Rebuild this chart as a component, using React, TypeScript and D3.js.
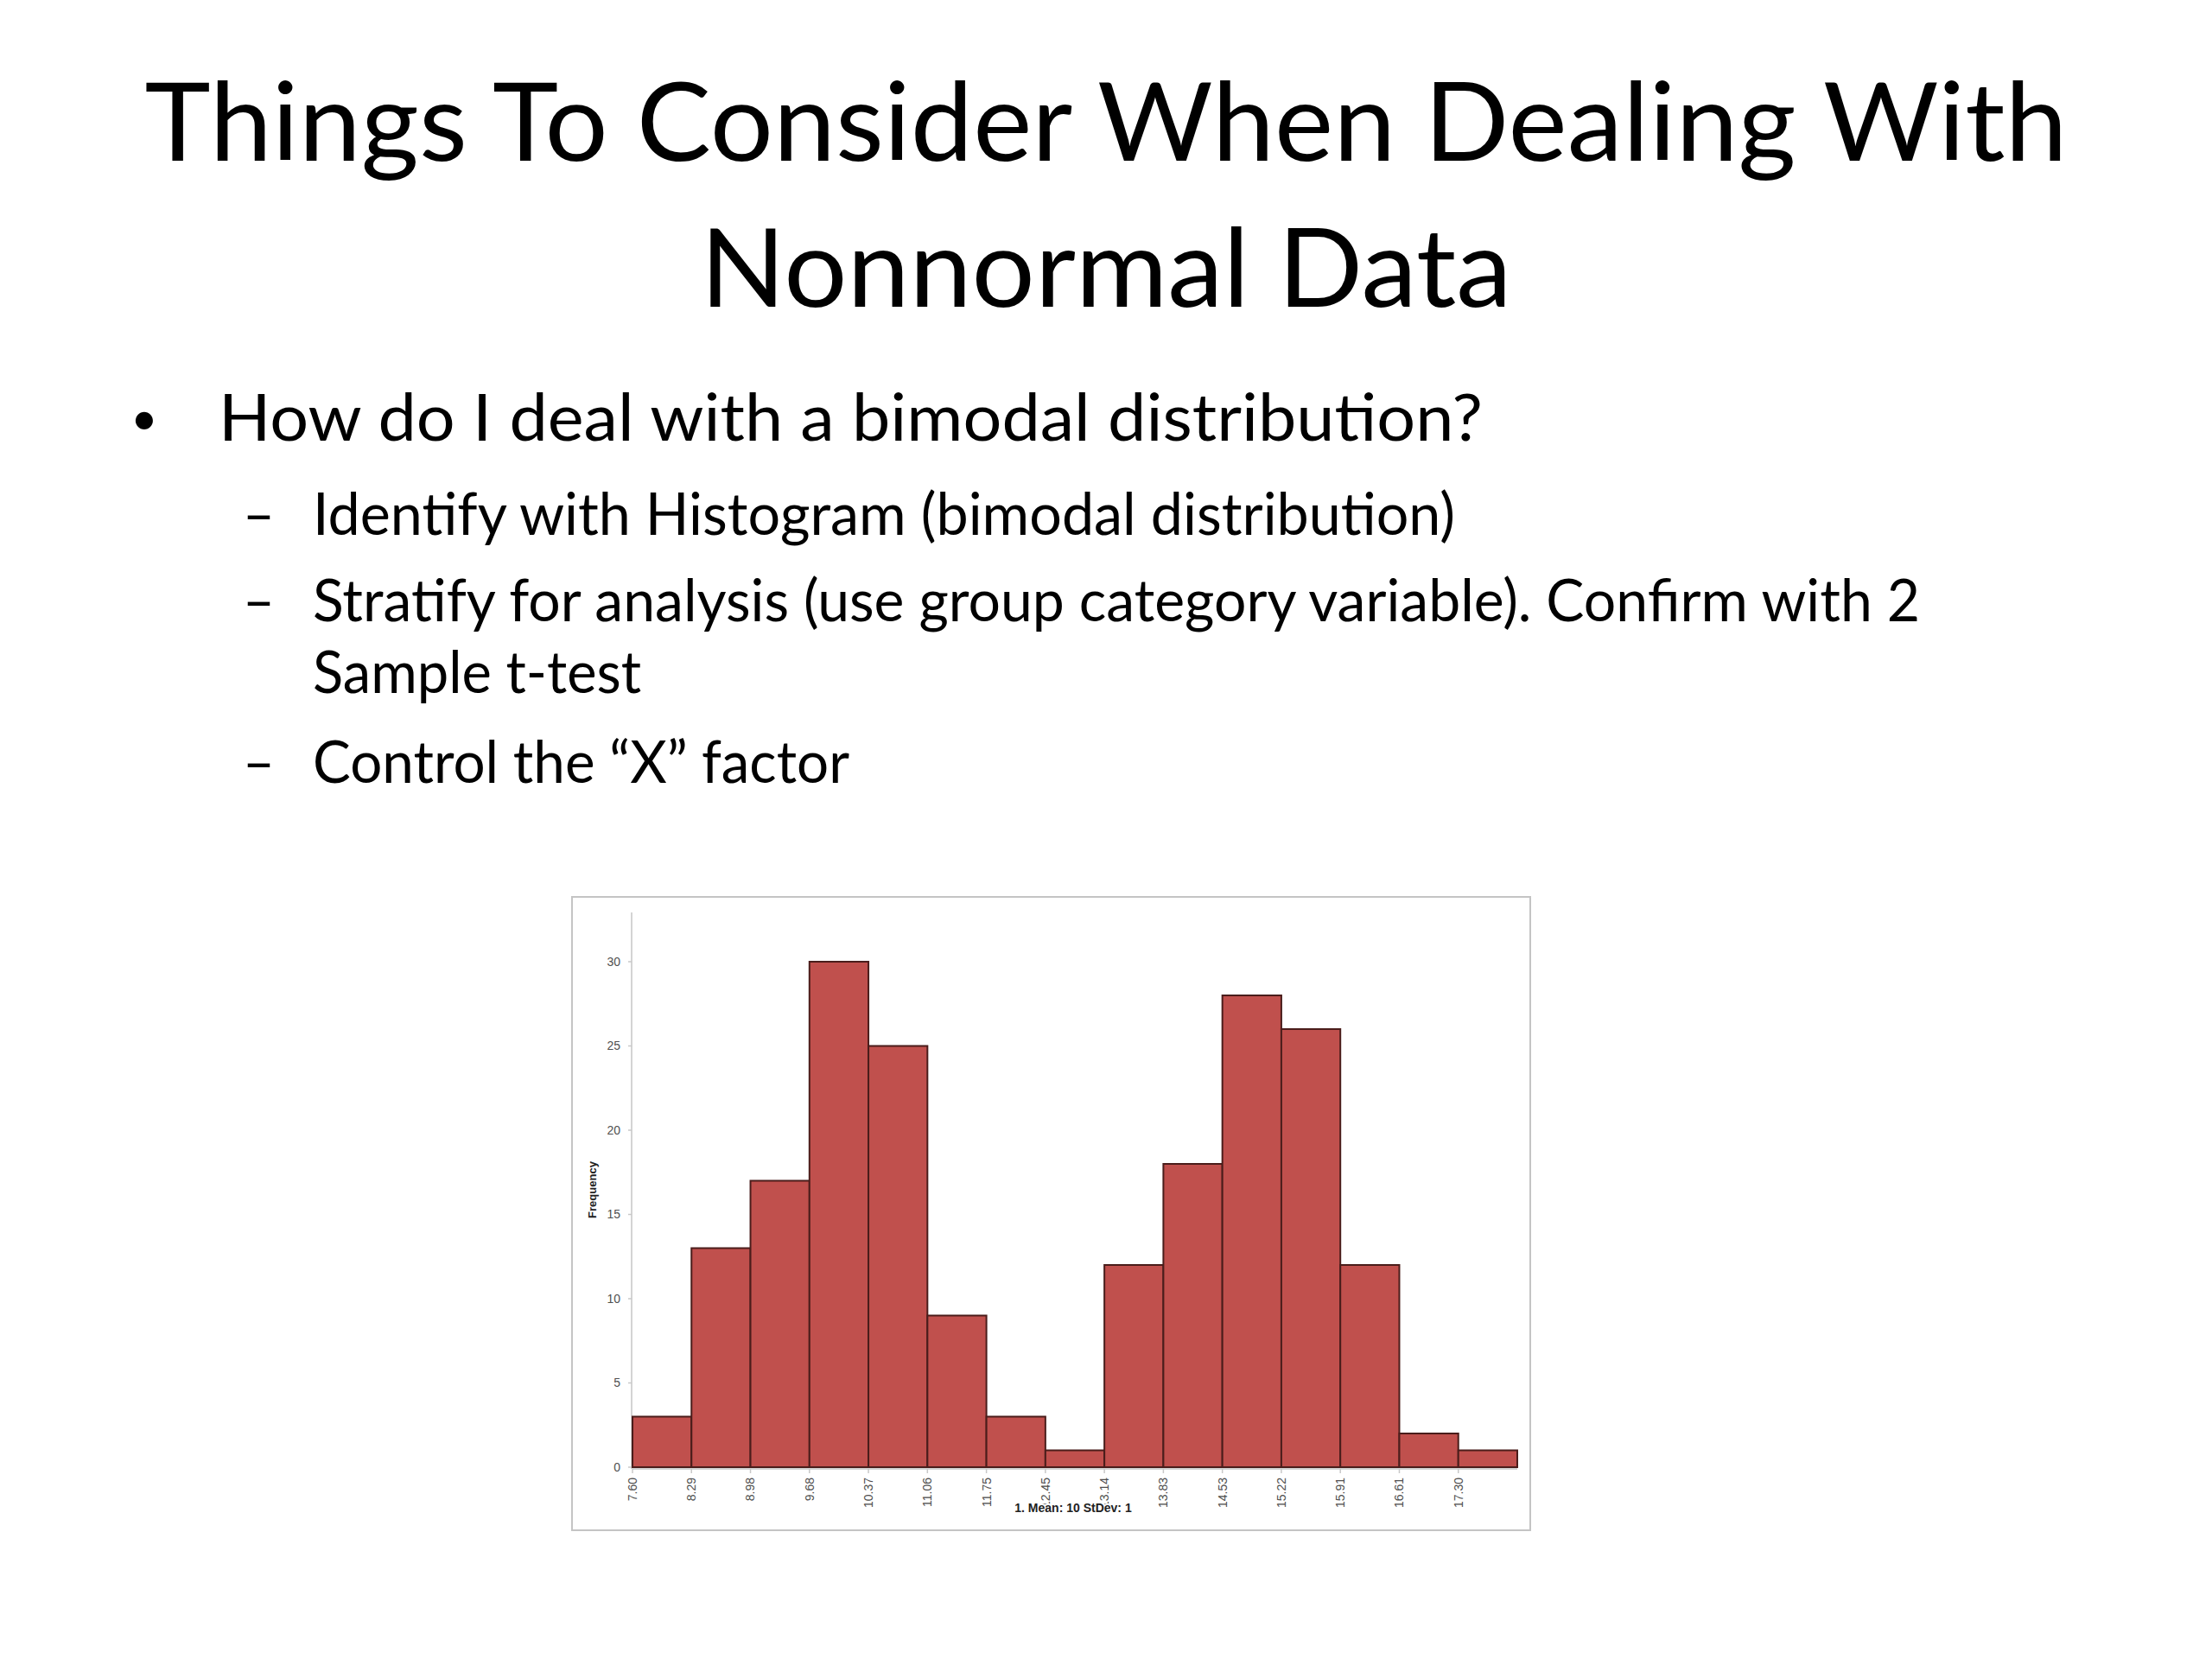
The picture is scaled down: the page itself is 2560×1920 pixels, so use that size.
import {scaleBand, scaleLinear} from "d3";

const TITLE_LINES = ["Things To Consider When Dealing With", "Nonnormal Data"];
const MAIN_BULLET = "How do I deal with a bimodal distribution?";
const SUB_BULLETS = [
  ["Identify with Histogram (bimodal distribution)"],
  ["Stratify for analysis (use group category variable). Confirm with 2", "Sample t-test"],
  ["Control the \u201cX\u201d factor"]
];

// histogram bins (left edge labels) and counts
const BIN_LABELS = [
  "7.60", "8.29", "8.98", "9.68", "10.37", "11.06", "11.75", "12.45",
  "13.14", "13.83", "14.53", "15.22", "15.91", "16.61", "17.30"
];
const FREQUENCIES = [3, 13, 17, 30, 25, 9, 3, 1, 12, 18, 28, 26, 12, 2, 1];
const Y_TICKS = [0, 5, 10, 15, 20, 25, 30];
const X_TITLE = "1. Mean: 10 StDev: 1";
const Y_TITLE = "Frequency";

const SLIDE_FONT = "Lato, 'Open Sans', sans-serif";
const CHART_FONT = "'Liberation Sans Narrow', 'Liberation Sans', Arial, sans-serif";

export default function App() {
  const width = 2560;
  const height = 1920;

  const plot = {left: 732, right: 1756, top: 1056, bottom: 1698};
  const x = scaleBand<string>().domain(BIN_LABELS).range([plot.left, plot.right]).padding(0);
  const y = scaleLinear().domain([0, 33]).range([plot.bottom, plot.bottom - 33 * 19.5]);

  const titleWidths = [2225, 939];
  const titleBaselines = [186, 355];
  const subLines = [
    {text: SUB_BULLETS[0][0], baseline: 619, width: 1322, dash: true},
    {text: SUB_BULLETS[1][0], baseline: 719, width: 1860, dash: true},
    {text: SUB_BULLETS[1][1], baseline: 802, width: 380, dash: false},
    {text: SUB_BULLETS[2][0], baseline: 906, width: 621, dash: true}
  ];

  return (
    <svg
      width={width}
      height={height}
      viewBox={`0 0 ${width} ${height}`}
      style={{position: "absolute", left: 0, top: 0, background: "#ffffff"}}
    >
      <rect width={width} height={height} fill="#ffffff" />

      {TITLE_LINES.map((line, i) => (
        <text
          key={line}
          x={1280}
          y={titleBaselines[i]}
          textAnchor="middle"
          fontFamily={SLIDE_FONT}
          fontSize={126}
          fill="#000000"
          textLength={titleWidths[i]}
          lengthAdjust="spacingAndGlyphs"
        >
          {line}
        </text>
      ))}

      <text x={167} y={503} textAnchor="middle" fontFamily={SLIDE_FONT} fontSize={54} fill="#000000">
        {"\u2022"}
      </text>
      <text
        x={253}
        y={510}
        fontFamily={SLIDE_FONT}
        fontSize={75}
        fill="#000000"
        textLength={1463}
        lengthAdjust="spacingAndGlyphs"
      >
        {MAIN_BULLET}
      </text>

      {subLines.map((line) => (
        <g key={line.text}>
          {line.dash ? (
            <text
              x={281}
              y={line.baseline}
              fontFamily={SLIDE_FONT}
              fontSize={68}
              fill="#000000"
              textLength={37}
              lengthAdjust="spacingAndGlyphs"
            >
              {"\u2013"}
            </text>
          ) : null}
          <text
            x={362}
            y={line.baseline}
            fontFamily={SLIDE_FONT}
            fontSize={68}
            fill="#000000"
            textLength={line.width}
            lengthAdjust="spacingAndGlyphs"
          >
            {line.text}
          </text>
        </g>
      ))}

      {/* chart frame */}
      <rect x={662} y={1038} width={1109} height={733} fill="#ffffff" stroke="#c4c4c4" strokeWidth={2} />

      {/* y axis */}
      <line x1={plot.left - 1} x2={plot.left - 1} y1={plot.top} y2={plot.bottom + 2} stroke="#d4d4d4" strokeWidth={2} />
      {Y_TICKS.map((tick) => (
        <g key={`y-${tick}`} transform={`translate(0,${y(tick)})`}>
          <line x1={plot.left - 5} x2={plot.left - 1} stroke="#c8c8c8" strokeWidth={1.5} />
          <text
            x={718}
            dy="0.35em"
            textAnchor="end"
            fontFamily={CHART_FONT}
            fontSize={14}
            fill="#505050"
          >
            {tick}
          </text>
        </g>
      ))}
      <text
        transform={`translate(690,1377) rotate(-90)`}
        textAnchor="middle"
        fontFamily={CHART_FONT}
        fontSize={13}
        fontWeight="bold"
        fill="#222222"
      >
        {Y_TITLE}
      </text>

      {/* bars */}
      {BIN_LABELS.map((label, i) => (
        <rect
          key={`bar-${label}`}
          x={x(label) ?? 0}
          y={y(FREQUENCIES[i])}
          width={x.bandwidth()}
          height={y(0) - y(FREQUENCIES[i])}
          fill="#c0504d"
          stroke="#4a1d1b"
          strokeWidth={2}
        />
      ))}

      {/* x axis */}
      <line x1={plot.left} x2={plot.right} y1={plot.bottom + 2} y2={plot.bottom + 2} stroke="#d4d4d4" strokeWidth={2} />
      {BIN_LABELS.map((label) => (
        <g key={`x-${label}`} transform={`translate(${x(label) ?? 0},${plot.bottom})`}>
          <line y1={2} y2={7} stroke="#c8c8c8" strokeWidth={1.5} />
          <text
            transform="translate(0,12) rotate(-90)"
            dy="0.35em"
            textAnchor="end"
            fontFamily={CHART_FONT}
            fontSize={14}
            fill="#505050"
          >
            {label}
          </text>
        </g>
      ))}
      <text
        x={1242}
        y={1750}
        textAnchor="middle"
        fontFamily={CHART_FONT}
        fontSize={14}
        fontWeight="bold"
        fill="#222222"
        stroke="#ffffff"
        strokeWidth={4}
        paintOrder="stroke"
      >
        {X_TITLE}
      </text>
    </svg>
  );
}
